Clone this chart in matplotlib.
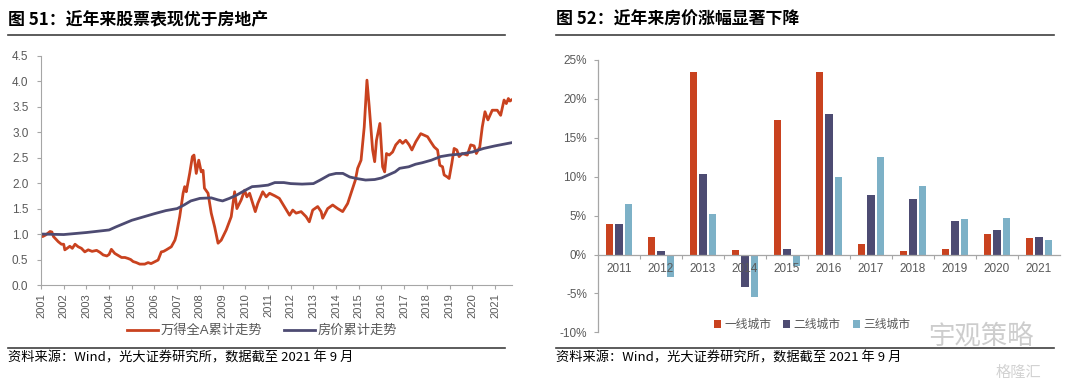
import matplotlib
matplotlib.use("Agg")
import matplotlib.pyplot as plt
from matplotlib.lines import Line2D
import numpy as np

plt.rcParams['font.family'] = ['Liberation Sans', 'Noto Sans CJK SC', 'DejaVu Sans']
plt.rcParams['axes.unicode_minus'] = False

# --- 图51 数据 ---
stock_year = [2001.00, 2001.07, 2001.20, 2001.40, 2001.48, 2001.55, 2001.76, 2001.90, 2002.00, 2002.05,
              2002.15, 2002.27, 2002.38, 2002.50, 2002.64, 2002.78, 2002.93, 2003.08, 2003.25, 2003.45,
              2003.60, 2003.74, 2003.90, 2004.00, 2004.10, 2004.25, 2004.40, 2004.55, 2004.70, 2004.84,
              2004.95, 2005.06, 2005.20, 2005.35, 2005.57, 2005.72, 2005.85, 2005.94, 2006.16, 2006.30,
              2006.40, 2006.52, 2006.74, 2006.90, 2006.96, 2007.11, 2007.26, 2007.33, 2007.40, 2007.55,
              2007.67, 2007.74, 2007.84, 2007.95, 2008.06, 2008.14, 2008.20, 2008.36, 2008.50, 2008.65,
              2008.80, 2008.94, 2009.16, 2009.38, 2009.53, 2009.63, 2009.82, 2009.97, 2010.07, 2010.19,
              2010.33, 2010.44, 2010.55, 2010.77, 2010.92, 2011.07, 2011.30, 2011.50, 2011.72, 2011.95,
              2012.09, 2012.24, 2012.46, 2012.68, 2012.82, 2012.97, 2013.19, 2013.34, 2013.41, 2013.63,
              2013.85, 2014.07, 2014.29, 2014.51, 2014.70, 2014.85, 2014.95, 2015.10, 2015.24, 2015.36,
              2015.46, 2015.61, 2015.70, 2015.78, 2015.93, 2016.05, 2016.14, 2016.22, 2016.34, 2016.49,
              2016.63, 2016.81, 2016.93, 2017.07, 2017.22, 2017.34, 2017.51, 2017.73, 2017.88, 2018.03,
              2018.17, 2018.32, 2018.47, 2018.57, 2018.69, 2018.76, 2018.90, 2018.98, 2019.10, 2019.20,
              2019.32, 2019.42, 2019.56, 2019.78, 2019.93, 2020.08, 2020.18, 2020.33, 2020.44, 2020.56,
              2020.69, 2020.88, 2021.10, 2021.25, 2021.40, 2021.50, 2021.59, 2021.66, 2021.72]
stock_val = [1.00, 0.95, 0.98, 1.05, 1.04, 0.95, 0.85, 0.80, 0.80, 0.69,
             0.72, 0.76, 0.72, 0.80, 0.75, 0.72, 0.65, 0.69, 0.66, 0.68,
             0.64, 0.59, 0.57, 0.60, 0.70, 0.62, 0.58, 0.54, 0.54, 0.52,
             0.50, 0.46, 0.44, 0.41, 0.41, 0.44, 0.42, 0.44, 0.49, 0.65,
             0.66, 0.69, 0.75, 0.88, 0.98, 1.34, 1.80, 1.93, 1.83, 2.19,
             2.52, 2.55, 2.19, 2.45, 2.22, 2.25, 1.90, 1.80, 1.41, 1.14,
             0.82, 0.88, 1.08, 1.34, 1.83, 1.50, 1.67, 1.86, 1.73, 1.80,
             1.60, 1.44, 1.60, 1.83, 1.73, 1.80, 1.75, 1.70, 1.54, 1.37,
             1.47, 1.41, 1.44, 1.34, 1.24, 1.47, 1.54, 1.44, 1.31, 1.50,
             1.57, 1.50, 1.44, 1.60, 1.86, 2.06, 2.29, 2.45, 3.10, 4.02,
             3.50, 2.65, 2.42, 2.84, 3.17, 2.32, 2.22, 2.58, 2.55, 2.61,
             2.75, 2.84, 2.78, 2.84, 2.75, 2.65, 2.81, 2.97, 2.94, 2.91,
             2.81, 2.71, 2.65, 2.35, 2.32, 2.16, 2.12, 2.09, 2.39, 2.68,
             2.65, 2.52, 2.58, 2.55, 2.75, 2.73, 2.58, 2.71, 3.10, 3.40,
             3.24, 3.43, 3.43, 3.33, 3.63, 3.56, 3.66, 3.61, 3.63]

house_year = [2001.0, 2002.0, 2003.0, 2004.0, 2004.3, 2005.0, 2006.0, 2006.5, 2007.0, 2007.3,
              2007.6, 2008.0, 2008.5, 2008.8, 2009.0, 2009.3, 2009.6, 2010.0, 2010.3, 2010.6,
              2011.0, 2011.3, 2011.7, 2012.0, 2012.5, 2013.0, 2013.3, 2013.7, 2014.0, 2014.3,
              2014.6, 2014.9, 2015.3, 2015.7, 2016.0, 2016.3, 2016.6, 2016.8, 2017.2, 2017.5,
              2017.8, 2018.2, 2018.6, 2019.0, 2019.5, 2020.0, 2020.5, 2021.0, 2021.7]
house_val = [1.00, 0.99, 1.03, 1.08, 1.14, 1.27, 1.40, 1.46, 1.50, 1.57,
             1.65, 1.70, 1.71, 1.67, 1.65, 1.70, 1.76, 1.86, 1.93, 1.94,
             1.96, 2.01, 2.01, 1.99, 1.98, 1.99, 2.06, 2.16, 2.19, 2.19,
             2.12, 2.09, 2.06, 2.07, 2.10, 2.16, 2.22, 2.29, 2.32, 2.37,
             2.40, 2.45, 2.52, 2.55, 2.57, 2.61, 2.68, 2.73, 2.79]

# --- 图52 数据 ---
bar_years = ['2011', '2012', '2013', '2014', '2015', '2016', '2017', '2018', '2019', '2020', '2021']
tier1 = [3.9, 2.2, 23.5, 0.6, 17.3, 23.5, 1.4, 0.4, 0.7, 2.6, 2.1]
tier2 = [3.9, 0.4, 10.3, -4.2, 0.7, 18.0, 7.7, 7.1, 4.3, 3.2, 2.2]
tier3 = [6.5, -2.9, 5.2, -5.5, -1.5, 10.0, 12.5, 8.8, 4.6, 4.7, 1.8]

RED = '#C9421F'
NAVY = '#4D4B72'
LBLUE = '#7DB1C7'
GRAY = '#595959'
AXC = '#A6A6A6'

W, H = 1080, 386
fig = plt.figure(figsize=(W / 100, H / 100), dpi=100)


def fx(px):
    return px / W


def fy(py):
    return 1 - py / H


# 标题和分隔线
fig.text(fx(8), fy(20), '图 51：近年来股票表现优于房地产', fontsize=12.2, fontweight='bold',
         family=['Noto Sans CJK SC'], va='center', ha='left', color='black')
fig.text(fx(556), fy(20), '图 52：近年来房价涨幅显著下降', fontsize=12.2, fontweight='bold',
         family=['Noto Sans CJK SC'], va='center', ha='left', color='black')
for x0, x1 in [(8, 505), (556, 1054)]:
    fig.add_artist(Line2D([fx(x0), fx(x1)], [fy(35), fy(35)], color='#404040', lw=1.2))
    fig.add_artist(Line2D([fx(x0), fx(x1)], [fy(347.5), fy(347.5)], color='#404040', lw=1.2))
src = '资料来源：Wind，光大证券研究所，数据截至 2021 年 9 月'
fig.text(fx(8), fy(358), src, fontsize=9.5, family=['Noto Sans CJK SC'], va='center', ha='left')
fig.text(fx(556), fy(358), src, fontsize=9.5, family=['Noto Sans CJK SC'], va='center', ha='left')

# ---- 左图: 折线 ----
ax1 = fig.add_axes([fx(41), fy(285), fx(512 - 41), (285 - 55.7) / H])
ax1.plot(stock_year, stock_val, color=RED, lw=2.0, label='万得全A累计走势')
ax1.plot(house_year, house_val, color=NAVY, lw=2.0, label='房价累计走势')
ax1.set_xlim(2001, 2021.75)
ax1.set_ylim(0, 4.5)
ax1.set_yticks(np.arange(0, 4.51, 0.5))
ax1.set_yticklabels([f'{v:.1f}' for v in np.arange(0, 4.51, 0.5)])
ax1.set_xticks(range(2001, 2022))
ax1.set_xticklabels([str(y) for y in range(2001, 2022)], rotation=90)
for s in ['top', 'right']:
    ax1.spines[s].set_visible(False)
for s in ['left', 'bottom']:
    ax1.spines[s].set_color(AXC)
    ax1.spines[s].set_linewidth(0.8)
ax1.tick_params(axis='y', colors=AXC, labelcolor=GRAY, labelsize=8.5, length=3, width=0.8, pad=6)
ax1.tick_params(axis='x', colors=AXC, labelcolor=GRAY, labelsize=8, length=3, width=0.8, pad=3)
ax1.legend(loc='center', bbox_to_anchor=(fx(262), fy(331)), bbox_transform=fig.transFigure,
           ncol=2, frameon=False, fontsize=9.5, handlelength=2.4, columnspacing=1.6,
           handletextpad=0.2, labelcolor=GRAY)

# ---- 右图: 柱状 ----
ax2 = fig.add_axes([fx(598), fy(332.3), fx(1060 - 598), (332.3 - 60) / H])
xs = np.arange(len(bar_years))
bw = 0.18
off = 0.226
ax2.bar(xs - off, tier1, width=bw, color=RED, label='一线城市')
ax2.bar(xs, tier2, width=bw, color=NAVY, label='二线城市')
ax2.bar(xs + off, tier3, width=bw, color=LBLUE, label='三线城市')
ax2.set_xlim(-0.5, len(bar_years) - 0.5)
ax2.set_ylim(-10, 25)
ax2.set_yticks(range(-10, 26, 5))
ax2.set_yticklabels([f'{v}%' for v in range(-10, 26, 5)])
ax2.set_xticks(xs)
ax2.set_xticklabels(bar_years)
ax2.set_xticks(np.arange(0.5, len(bar_years) - 0.5, 1), minor=True)
ax2.spines['bottom'].set_position(('data', 0))
for s in ['top', 'right']:
    ax2.spines[s].set_visible(False)
for s in ['left', 'bottom']:
    ax2.spines[s].set_color(AXC)
    ax2.spines[s].set_linewidth(0.9)
ax2.tick_params(axis='y', colors=AXC, labelcolor=GRAY, labelsize=8.5, length=3, width=0.8, pad=5)
ax2.tick_params(axis='x', which='major', length=0, labelcolor=GRAY, labelsize=8.5, pad=6)
ax2.tick_params(axis='x', which='minor', colors=AXC, length=3, width=0.8)
ax2.legend(loc='center', bbox_to_anchor=(fx(812), fy(325)), bbox_transform=fig.transFigure,
           ncol=3, frameon=False, fontsize=8.5, handlelength=0.6, handleheight=0.6,
           columnspacing=1.0, handletextpad=0.3, labelcolor=GRAY)

# 水印
fig.text(fx(928), fy(337), '宇观策略', fontsize=19, color='#CDCDCD', family=['Noto Sans CJK SC'],
         va='center', ha='left')
fig.text(fx(996), fy(372), '格隆汇', fontsize=11, color='#D2D2D2', family=['Noto Sans CJK SC'],
         va='center', ha='left')

fig.savefig('out.png', dpi=100, facecolor='white')
